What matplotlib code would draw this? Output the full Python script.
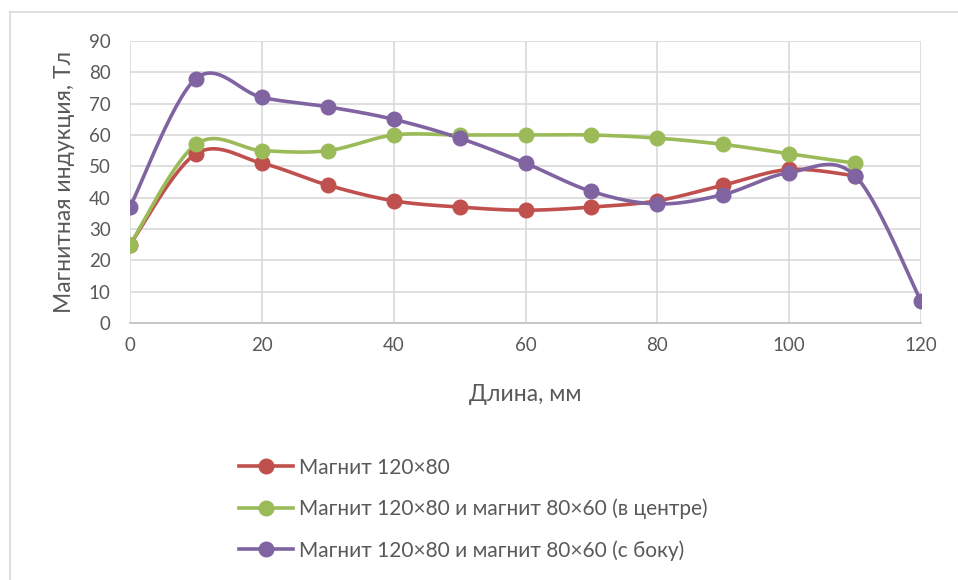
import numpy as np
import matplotlib
matplotlib.use("Agg")
import matplotlib.pyplot as plt
from matplotlib.lines import Line2D

plt.rcParams['font.family'] = ['Lato', 'Noto Sans', 'DejaVu Sans']

# длина, мм
x_red = [0, 10, 20, 30, 40, 50, 60, 70, 80, 90, 100, 110]
b_red = [25, 54, 51, 44, 39, 37, 36, 37, 39, 44, 49, 47]

x_green = [0, 10, 20, 30, 40, 50, 60, 70, 80, 90, 100, 110]
b_green = [25, 57, 55, 55, 60, 60, 60, 60, 59, 57, 54, 51]

x_purple = [0, 10, 20, 30, 40, 50, 60, 70, 80, 90, 100, 110, 120]
b_purple = [37, 78, 72, 69, 65, 59, 51, 42, 38, 41, 48, 47, 7]

labels = ['Магнит 120×80',
          'Магнит 120×80 и магнит 80×60 (в центре)',
          'Магнит 120×80 и магнит 80×60 (с боку)']
colors = ['#c0504d', '#9bbb59', '#8064a2']


def smooth(x, y, n=30):
    # сглаженная линия как в Excel: кубические Безье по соседним точкам
    x = np.asarray(x, float)
    y = np.asarray(y, float)
    px = np.concatenate([[x[0]], x, [x[-1]]])
    py = np.concatenate([[y[0]], y, [y[-1]]])
    t = np.linspace(0, 1, n)[:, None]
    xs, ys = [], []
    for i in range(len(x) - 1):
        p0 = np.array([px[i + 1], py[i + 1]])
        p3 = np.array([px[i + 2], py[i + 2]])
        c1 = p0 + (p3 - np.array([px[i], py[i]])) / 6
        c2 = p3 - (np.array([px[i + 3], py[i + 3]]) - p0) / 6
        seg = ((1 - t) ** 3) * p0 + 3 * ((1 - t) ** 2) * t * c1 \
            + 3 * (1 - t) * t ** 2 * c2 + t ** 3 * p3
        xs.append(seg[:, 0])
        ys.append(seg[:, 1])
    return np.concatenate(xs), np.concatenate(ys)


fig = plt.figure(figsize=(9.58, 5.8), dpi=100)
ax = fig.add_axes([130 / 958, 1 - 323 / 580, 791 / 958, 282 / 580])

series = [(x_red, b_red), (x_green, b_green), (x_purple, b_purple)]
for (xv, yv), c in zip(series, colors):
    sx, sy = smooth(xv, yv)
    ax.plot(sx, sy, color=c, lw=2.6, zorder=3, solid_capstyle='round')
    ax.plot(xv, yv, 'o', color=c, ms=10.5, zorder=4)

ax.set_xlim(0, 120)
ax.set_ylim(0, 90)
ax.set_xticks(range(0, 121, 20))
ax.set_yticks(range(0, 91, 10))
ax.grid(True, color='#d9d9d9', lw=1.2)
ax.set_axisbelow(True)
for s in ['top', 'right', 'left']:
    ax.spines[s].set_visible(False)
ax.spines['bottom'].set_color('#bfbfbf')
ax.spines['bottom'].set_linewidth(1.2)
ax.tick_params(length=0, labelsize=13.5, colors='#595959', pad=10)
ax.tick_params(axis='y', pad=14)
ax.set_xlabel('Длина, мм', fontsize=16.5, color='#595959', labelpad=22)
ax.set_ylabel('Магнитная индукция, Тл', fontsize=16.5, color='#595959', labelpad=10)

handles = [Line2D([], [], color=c, lw=2.6, marker='o', ms=10.5) for c in colors]
fig.legend(handles, labels, loc='upper left', bbox_to_anchor=(220 / 958, 1 - 439 / 580),
           frameon=False, fontsize=15, labelcolor='#595959', handlelength=2.6,
           handletextpad=0.3, labelspacing=1.0)

# рамка области диаграммы
fig.add_artist(Line2D([10 / 958, 1], [1 - 12 / 580] * 2, color='#d9d9d9', lw=1.2))
fig.add_artist(Line2D([10 / 958] * 2, [0, 1 - 12 / 580], color='#d9d9d9', lw=1.2))

fig.savefig('out.png', dpi=100)
